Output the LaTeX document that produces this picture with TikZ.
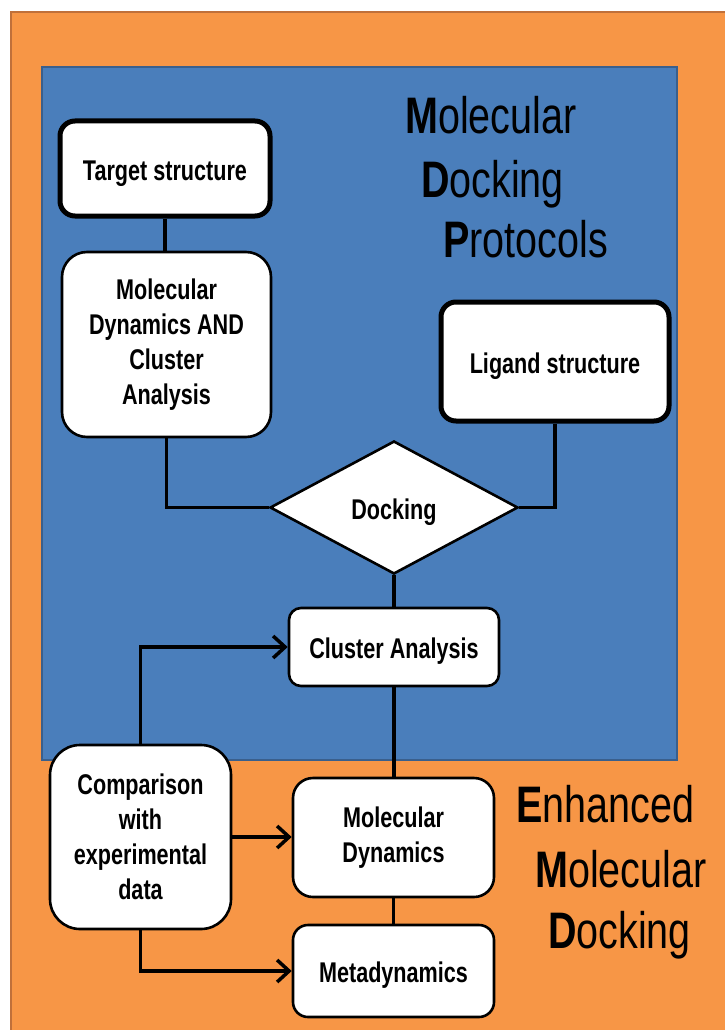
\documentclass[tikz,border=0pt]{standalone}
\usepackage{fontspec}
\usepackage{graphicx}
\setmainfont{Liberation Sans}
\usetikzlibrary{shapes.geometric,arrows.meta}
\definecolor{orfill}{RGB}{247,150,70}
\definecolor{orline}{RGB}{192,112,58}
\definecolor{blfill}{RGB}{74,126,187}
\definecolor{blline}{RGB}{58,95,140}
\newcommand{\vs}[1]{\scalebox{1}[1.32]{#1}}
\newcommand{\vt}[1]{\scalebox{1}[1.30]{#1}}
\tikzset{
  boxtxt/.style={font=\bfseries\fontsize{21.6}{35}\selectfont, align=center, text=black},
  oneline/.style={text height=25pt, text depth=2pt},
  thinbox/.style={boxtxt, draw=black, fill=white, line width=2.6pt, rectangle, inner sep=0pt},
  thickbox/.style={thinbox, line width=5pt},
  conn/.style={draw=black, line width=3.5pt},
  arr/.style={conn, -{Straight Barb[length=12pt,width=22pt,line width=3.5pt]}},
  title/.style={font=\fontsize{39.5}{47}\selectfont, anchor=base west, inner sep=0pt, text=black}
}
\begin{document}
\begin{tikzpicture}[x=1pt,y=-1pt]
\useasboundingbox (0,0) rectangle (724,1030);
\fill[white] (0,0) rectangle (724,1030);
% backgrounds
\draw[fill=orfill, draw=orline, line width=2pt] (11,12) rectangle (726,1032);
\draw[fill=blfill, draw=blline, line width=1.5pt] (42,67) rectangle (677,760);
% titles
\node[title] (t1) at (405,133) {\vt{\textbf{M}olecular}};
\node[title] (t2) at (421,197) {\vt{\textbf{D}ocking}};
\node[title] (t3) at (443,257) {\vt{\textbf{P}rotocols}};
\node[title] (e1) at (516,822) {\vt{\textbf{E}nhanced}};
\node[title] (e2) at (535,887) {\vt{\textbf{M}olecular}};
\node[title] (e3) at (548,948) {\vt{\textbf{D}ocking}};
% boxes
\node[thickbox, oneline, rounded corners=15pt, minimum width=210pt, minimum height=95pt] (target) at (165,168.5) {\vs{Target structure}};
\node[thinbox, rounded corners=25pt, minimum width=209pt, minimum height=185pt] (md) at (166.5,344.5) {\vs{Molecular}\\\vs{Dynamics AND}\\\vs{Cluster}\\\vs{Analysis}};
\node[thickbox, oneline, rounded corners=15pt, minimum width=228pt, minimum height=119pt] (lig) at (555,361.5) {\vs{Ligand structure}};
\node[boxtxt, oneline, draw=black, fill=white, line width=2.6pt, diamond, inner sep=0pt, minimum width=248pt, minimum height=133pt] (dock) at (394,507.5) {\vs{Docking}};
\node[thinbox, oneline, rounded corners=12pt, minimum width=210pt, minimum height=78pt] (clu) at (394,647) {\vs{Cluster Analysis}};
\node[thinbox, rounded corners=20pt, minimum width=201pt, minimum height=119pt] (md2) at (393.5,837.5) {\vs{Molecular}\\\vs{Dynamics}};
\node[thinbox, oneline, rounded corners=15pt, minimum width=201pt, minimum height=92pt] (meta) at (393.5,971) {\vs{Metadynamics}};
\node[thinbox, rounded corners=30pt, minimum width=181pt, minimum height=184pt] (cmp) at (140.5,837) {\vs{Comparison}\\\vs{with}\\\vs{experimental}\\\vs{data}};
% connectors
\draw[conn] (target.south) -- (target.south |- md.north);
\draw[conn] (md.south) |- (dock.west);
\draw[conn] (lig.south) |- (dock.east);
\draw[conn] (dock.south) -- (dock.south |- clu.north);
\draw[conn] (clu.south) -- (clu.south |- md2.north);
\draw[conn] (md2.south) -- (meta.north);
\draw[arr] (cmp.north) |- (clu.west);
\draw[arr] (cmp.east) -- (cmp.east -| md2.west);
\draw[arr] (cmp.south) |- (meta.west);
\end{tikzpicture}
\end{document}
